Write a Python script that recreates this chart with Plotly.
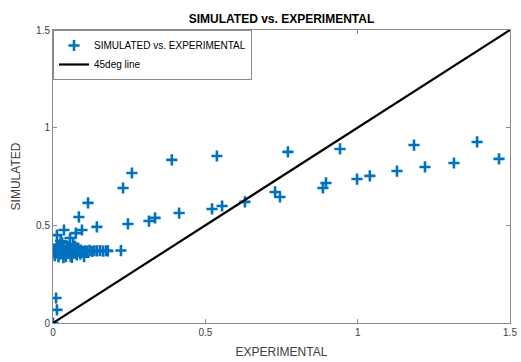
import plotly.graph_objects as go

# Experimental vs simulated values
experimental = [
    0.000, 0.010, 0.013,
    0.115, 0.085, 0.144, 0.246, 0.223,
    0.013, 0.036, 0.075, 0.095, 0.056, 0.030,
    0.390, 0.538, 0.259, 0.230, 0.315, 0.335, 0.414, 0.522, 0.555, 0.630,
    0.771, 0.942, 0.729, 0.745, 0.886, 0.896, 0.998, 1.040, 1.129, 1.185,
    1.221, 1.316, 1.392, 1.464,
    # dense group at low experimental values
    0.000, 0.004, 0.008, 0.012, 0.016, 0.020, 0.024, 0.028, 0.032, 0.036,
    0.040, 0.044, 0.048, 0.052, 0.056, 0.060, 0.065, 0.070, 0.075, 0.080,
    0.086, 0.092, 0.098, 0.105, 0.112, 0.120, 0.128, 0.136, 0.145, 0.155,
    0.165, 0.175, 0.180, 0.006, 0.018, 0.027, 0.039, 0.047, 0.058, 0.068,
    0.078, 0.090, 0.102, 0.014, 0.022, 0.034, 0.050, 0.062, 0.072, 0.010,
    0.042, 0.083, 0.025, 0.066,
]
simulated = [
    0.000, 0.128, 0.067,
    0.615, 0.543, 0.492, 0.507, 0.371,
    0.450, 0.476, 0.460, 0.476, 0.435, 0.410,
    0.835, 0.855, 0.768, 0.691, 0.522, 0.538, 0.563, 0.584, 0.599, 0.620,
    0.876, 0.891, 0.671, 0.645, 0.691, 0.717, 0.737, 0.753, 0.778, 0.911,
    0.799, 0.819, 0.927, 0.840,
    0.365, 0.372, 0.358, 0.368, 0.375, 0.362, 0.370, 0.355, 0.378, 0.366,
    0.372, 0.360, 0.369, 0.376, 0.363, 0.371, 0.367, 0.374, 0.362, 0.370,
    0.368, 0.373, 0.366, 0.370, 0.368, 0.372, 0.367, 0.370, 0.369, 0.371,
    0.368, 0.370, 0.369, 0.345, 0.338, 0.390, 0.350, 0.395, 0.342, 0.385,
    0.348, 0.352, 0.340, 0.400, 0.352, 0.335, 0.388, 0.336, 0.392, 0.380,
    0.340, 0.382, 0.420, 0.405,
]

diag = [0, 1.5]

x_ticks = [0, 0.5, 1, 1.5]
y_ticks = [0, 0.5, 1, 1.5]
tick_text = ["0", "0.5", "1", "1.5"]

fig = go.Figure()
fig.add_trace(go.Scatter(
    x=experimental, y=simulated, mode="markers",
    name="SIMULATED vs. EXPERIMENTAL",
    marker=dict(symbol="cross-thin", size=8, color="#0072BD",
                line=dict(color="#0072BD", width=2.6)),
))
fig.add_trace(go.Scatter(
    x=diag, y=diag, mode="lines", name="45deg line",
    line=dict(color="black", width=2.2),
))

axis_common = dict(
    showgrid=False, zeroline=False, showline=True, linecolor="#8a8a8a",
    linewidth=1, mirror="ticks", ticks="inside", ticklen=4, tickcolor="#8a8a8a",
    tickfont=dict(family="Liberation Sans, Arial", size=10, color="#404040"),
    range=[0, 1.5], automargin=False,
)

fig.update_layout(
    width=521, height=362,
    margin=dict(l=53, r=11, t=30, b=39, autoexpand=False),
    paper_bgcolor="white", plot_bgcolor="white",
    title=dict(text="<b>SIMULATED vs. EXPERIMENTAL</b>", x=0.5, xref="paper",
               y=1, yref="paper", yanchor="bottom", pad=dict(b=7),
               font=dict(family="Liberation Sans, Arial", size=12, color="black"),
               automargin=False),
    xaxis=dict(**axis_common, tickvals=x_ticks, ticktext=tick_text,
               title=dict(text="EXPERIMENTAL", standoff=10,
                          font=dict(family="Liberation Sans, Arial", size=12, color="#404040"))),
    yaxis=dict(**axis_common, tickvals=y_ticks, ticktext=tick_text,
               title=dict(text="SIMULATED", standoff=12,
                          font=dict(family="Liberation Sans, Arial", size=12, color="#404040"))),
    legend=dict(x=0, y=1, xanchor="left", yanchor="top", bgcolor="white",
                bordercolor="#8a8a8a", borderwidth=1, tracegroupgap=0,
                itemwidth=30,
                font=dict(family="Liberation Sans, Arial", size=10, color="black")),
    showlegend=True,
)

fig.write_html("out.html")
